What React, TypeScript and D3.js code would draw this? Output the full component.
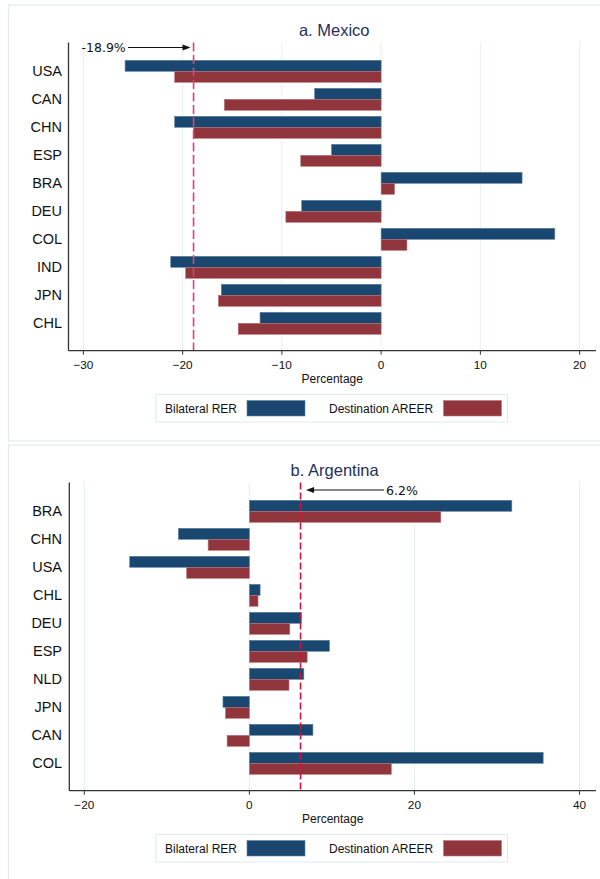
import React from "react";
import * as d3 from "d3";

// Panel a: Mexico
const mexCountries = ["USA", "CAN", "CHN", "ESP", "BRA", "DEU", "COL", "IND", "JPN", "CHL"];
const mexBilateral = [-25.8, -6.7, -20.8, -5.0, 14.2, -8.0, 17.5, -21.2, -16.1, -12.2];
const mexAreer = [-20.8, -15.8, -18.9, -8.1, 1.35, -9.6, 2.6, -19.7, -16.4, -14.4];
const mexAverage = -18.9;
const mexTicks = [-30, -20, -10, 0, 10, 20];

// Panel b: Argentina
const argCountries = ["BRA", "CHN", "USA", "CHL", "DEU", "ESP", "NLD", "JPN", "CAN", "COL"];
const argBilateral = [31.8, -8.6, -14.5, 1.3, 6.3, 9.7, 6.6, -3.2, 7.7, 35.6];
const argAreer = [23.2, -5.0, -7.6, 1.05, 4.9, 7.0, 4.8, -2.9, -2.7, 17.2];
const argAverage = 6.2;
const argTicks = [-20, 0, 20, 40];

const seriesNames = ["Bilateral RER", "Destination AREER"];

const BLUE = "#1a476f";
const RED = "#90353b";
const GRID = "#e7eff1";
const FONT = "Liberation Sans, Arial, sans-serif";

type PanelProps = {
  top: number;
  title: string;
  countries: string[];
  bilateral: number[];
  areer: number[];
  average: number;
  ticks: number[];
  domain: [number, number];
  left: number;
  lineColor: string;
  dash: string;
  labelSide: "left" | "right";
};

function fmtTick(v: number) {
  return v < 0 ? "\u2212" + Math.abs(v) : String(v);
}

function Panel(p: PanelProps) {
  const plotTop = 42.5;
  const plotBottom = 350.7;
  const right = 596;
  const x = d3.scaleLinear().domain(p.domain).range([p.left, right]);
  const y = d3.scalePoint<string>().domain(p.countries).range([71.3, 323.3]);
  const barH = 11;
  const avgX = x(p.average);
  const avgLabel = (p.average > 0 ? "" : "-") + Math.abs(p.average).toFixed(1) + "%";
  const annY = 47.5;
  const cx = (p.left + right) / 2;

  return (
    <g transform={`translate(0,${p.top})`}>
      <rect x={8.5} y={5} width={600} height={436} fill="#fff" stroke="#e3eaec" strokeWidth={1.2} />
      <text x={cx + 2} y={30} textAnchor="middle" dominantBaseline="central" fontFamily={FONT} fontSize={16.5} fill="#1f2f5c">
        {p.title}
      </text>

      {/* gridlines */}
      {p.ticks.map((t) => (
        <line key={"g" + t} x1={x(t)} x2={x(t)} y1={plotTop} y2={plotBottom} stroke={GRID} strokeWidth={1} />
      ))}

      {/* bars */}
      {p.countries.map((c, i) => {
        const cy = y(c) as number;
        const b = p.bilateral[i];
        const a = p.areer[i];
        return (
          <g key={c}>
            <rect
              x={Math.min(x(0), x(b))}
              y={cy - barH}
              width={Math.abs(x(b) - x(0))}
              height={barH}
              fill={BLUE}
              stroke="#5f83a3"
              strokeWidth={0.6}
            />
            <rect
              x={Math.min(x(0), x(a))}
              y={cy}
              width={Math.abs(x(a) - x(0))}
              height={barH}
              fill={RED}
              stroke="#b7777c"
              strokeWidth={0.6}
            />
            <text x={62} y={cy} textAnchor="end" dominantBaseline="central" fontFamily={FONT} fontSize={14.5} fill="#111">
              {c}
            </text>
          </g>
        );
      })}

      {/* average reference line */}
      <line x1={avgX} x2={avgX} y1={plotTop} y2={plotBottom} stroke={p.lineColor} strokeWidth={1.6} strokeDasharray={p.dash} />

      {/* annotation */}
      {p.labelSide === "left" ? (
        <g>
          <text x={81.5} y={annY} dominantBaseline="central" fontFamily="DejaVu Sans, sans-serif" fontSize={12.5} fill="#111">
            {avgLabel}
          </text>
          <line x1={128} x2={avgX - 10} y1={annY} y2={annY} stroke="#111" strokeWidth={1} />
          <path d={`M${avgX - 3},${annY} L${avgX - 11},${annY - 3} L${avgX - 11},${annY + 3} Z`} fill="#111" />
        </g>
      ) : (
        <g>
          <text x={386} y={annY + 2.5} dominantBaseline="central" fontFamily="DejaVu Sans, sans-serif" fontSize={12.5} fill="#111">
            {avgLabel}
          </text>
          <line x1={384} x2={avgX + 13} y1={annY + 2.5} y2={annY + 2.5} stroke="#111" strokeWidth={1} />
          <path d={`M${avgX + 5.5},${annY + 2.5} L${avgX + 13.5},${annY - 0.5} L${avgX + 13.5},${annY + 5.5} Z`} fill="#111" />
        </g>
      )}

      {/* axes */}
      <line x1={p.left} x2={p.left} y1={plotTop} y2={plotBottom} stroke="#333" strokeWidth={1.3} />
      <line x1={p.left} x2={right} y1={plotBottom} y2={plotBottom} stroke="#333" strokeWidth={1.3} />
      {p.ticks.map((t) => (
        <g key={"t" + t}>
          <line x1={x(t)} x2={x(t)} y1={plotBottom} y2={plotBottom + 4} stroke="#333" strokeWidth={1} />
          <text x={x(t)} y={365} textAnchor="middle" dominantBaseline="central" fontFamily={FONT} fontSize={11.8} fill="#111">
            {fmtTick(t)}
          </text>
        </g>
      ))}
      <text x={cx} y={378.5} textAnchor="middle" dominantBaseline="central" fontFamily={FONT} fontSize={12} fill="#111">
        Percentage
      </text>

      {/* legend */}
      <rect x={156} y={394.5} width={351.5} height={27.5} fill="#fff" stroke="#e0eaed" strokeWidth={1} />
      <text x={165} y={409} dominantBaseline="central" fontFamily={FONT} fontSize={12} fill="#111">
        {seriesNames[0]}
      </text>
      <rect x={247} y={400.5} width={58} height={15.5} fill={BLUE} stroke="#5f83a3" strokeWidth={0.6} />
      <text x={329} y={409} dominantBaseline="central" fontFamily={FONT} fontSize={12} fill="#111">
        {seriesNames[1]}
      </text>
      <rect x={443.5} y={400.5} width={58} height={15.5} fill={RED} stroke="#b7777c" strokeWidth={0.6} />
    </g>
  );
}

export default function App() {
  return (
    <svg width={600} height={879} style={{ position: "absolute", left: 0, top: 0, background: "#fff" }}>
      <rect x={0} y={0} width={600} height={879} fill="#fff" />
      <Panel
        top={0}
        title="a. Mexico"
        countries={mexCountries}
        bilateral={mexBilateral}
        areer={mexAreer}
        average={mexAverage}
        ticks={mexTicks}
        domain={[-31.5, 21.65]}
        left={68.5}
        lineColor="#d8466f"
        dash="9 3.5"
        labelSide="left"
      />
      <Panel
        top={440}
        title="b. Argentina"
        countries={argCountries}
        bilateral={argBilateral}
        areer={argAreer}
        average={argAverage}
        ticks={argTicks}
        domain={[-21.82, 42.0]}
        left={69.3}
        lineColor="#d3123e"
        dash="7 3"
        labelSide="right"
      />
    </svg>
  );
}
